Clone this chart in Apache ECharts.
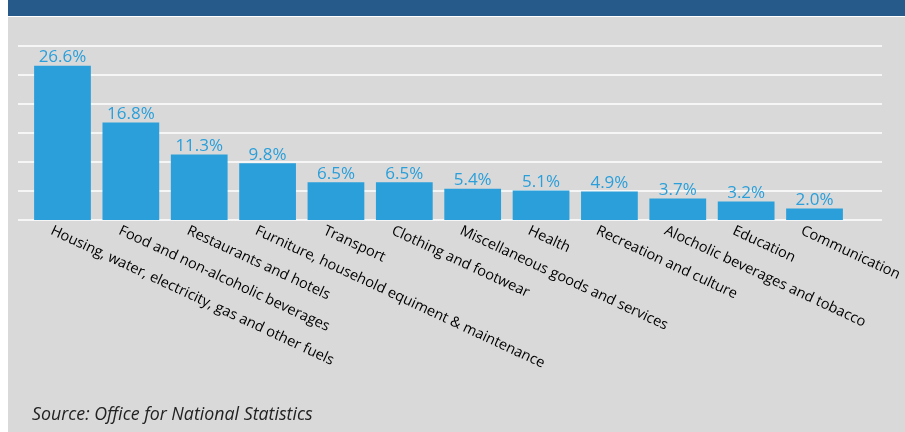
<!DOCTYPE html>
<html>
<head>
<meta charset="utf-8">
<script src="https://cdn.jsdelivr.net/npm/echarts@6/dist/echarts.min.js"></script>
<style>
html,body{margin:0;padding:0;background:#ffffff;}
#chart{width:905px;height:432px;}
</style>
</head>
<body>
<div id="chart"></div>
<script>
const categories = [
  "Housing, water, electricity, gas and other fuels",
  "Food and non-alcoholic beverages",
  "Restaurants and hotels",
  "Furniture, household equiment & maintenance",
  "Transport",
  "Clothing and footwear",
  "Miscellaneous goods and services",
  "Health",
  "Recreation and culture",
  "Alocholic beverages and tobacco",
  "Education",
  "Communication"
];
const shares = [26.6, 16.8, 11.3, 9.8, 6.5, 6.5, 5.4, 5.1, 4.9, 3.7, 3.2, 2.0];
const sourceText = "Source: Office for National Statistics";

const blue = "#2a9fda";
const chart = echarts.init(document.getElementById('chart'), null, {renderer: 'canvas'});
chart.setOption({
  animation: false,
  graphic: [
    {type: 'rect', z: -10, shape: {x: 8, y: 0, width: 897, height: 16}, style: {fill: '#265a8a'}},
    {type: 'rect', z: -10, shape: {x: 8, y: 17, width: 897, height: 415}, style: {fill: '#d9d9d9'}},
    {type: 'text', left: 32, top: 406, style: {text: sourceText, font: 'italic 17.8px "Open Sans"', fill: '#222222'}}
  ],
  grid: [
    {left: 18, right: 23, top: 46, bottom: 212},
    {left: 28.3, right: 56.3, top: 46, bottom: 212},
    {left: 17.3, right: 67.3, top: 46, bottom: 212}
  ],
  xAxis: [
    {gridIndex: 0, type: 'value', show: false, min: 0, max: 1},
    {gridIndex: 1, type: 'category', data: categories, axisLine: {show: false}, axisTick: {show: false}, axisLabel: {show: false}},
    {gridIndex: 2, type: 'category', data: categories, axisLine: {show: false}, axisTick: {show: false},
      axisLabel: {show: true, interval: 0, rotate: -25, margin: 10, fontFamily: '"Open Sans"', fontSize: 14.5, color: '#000000'}}
  ],
  yAxis: [
    {gridIndex: 0, type: 'value', min: 0, max: 30, interval: 5, axisLabel: {show: false}, axisLine: {show: false}, axisTick: {show: false},
      splitLine: {show: true, lineStyle: {color: '#ffffff', width: 1.5}}},
    {gridIndex: 1, type: 'value', min: 0, max: 30, interval: 5, show: false, splitLine: {show: false}},
    {gridIndex: 2, type: 'value', min: 0, max: 30, interval: 5, show: false, splitLine: {show: false}}
  ],
  series: [{
    type: 'bar',
    xAxisIndex: 1,
    yAxisIndex: 1,
    data: shares,
    barCategoryGap: '17%',
    itemStyle: {color: blue},
    label: {
      show: true,
      position: 'top',
      distance: 0,
      color: blue,
      fontFamily: '"Open Sans"',
      fontSize: 17,
      formatter: p => p.value.toFixed(1) + '%'
    }
  }]
});
</script>
</body>
</html>
